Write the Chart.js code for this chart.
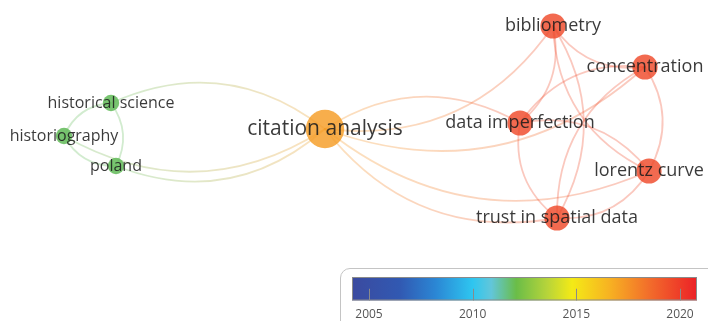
<!DOCTYPE html>
<html>
<head>
<meta charset="utf-8">
<script src="https://cdn.jsdelivr.net/npm/chart.js@4.4.1/dist/chart.umd.min.js"></script>
<style>
  body { margin: 0; background: #fff; }
  #wrap { position: relative; width: 708px; height: 321px; overflow: hidden; }
  #legendBox { position: absolute; left: 340px; top: 268px; width: 380px; height: 70px;
               border: 1px solid #c4c4c4; border-radius: 10px; background: #fff; box-sizing: border-box; }
  #net { position: absolute; left: 0; top: 0; }
  #scale { position: absolute; left: 352px; top: 277px; }
</style>
</head>
<body>
<div id="wrap">
  <canvas id="net" width="708" height="321"></canvas>
  <div id="legendBox"></div>
  <canvas id="scale" width="345" height="47"></canvas>
</div>
<script>
// keywords (VOSviewer overlay map)
const nodeLabels = ['historical science', 'historiography', 'poland', 'citation analysis',
    'bibliometry', 'concentration', 'data imperfection', 'lorentz curve', 'trust in spatial data'];
const nodeX = [111, 64, 116, 325, 553, 645, 520, 649, 557];
const nodeY = [103, 136, 166, 129, 26, 67, 123, 171, 218];
const nodeWeight = [1, 1, 1, 6, 3, 3, 3, 3, 3];
const nodeYear = [2011.9, 2011.9, 2011.9, 2017.2, 2019.6, 2019.6, 2019.6, 2019.6, 2019.6];

// links (from -> to, order decides which side the arc bends)
const edgeFrom = [1, 0, 2, 0, 3, 3, 3, 4, 5, 7, 8, 4, 4, 7, 5, 5, 6, 8, 8, 6, 7];
const edgeTo   = [0, 2, 1, 3, 2, 1, 6, 3, 3, 3, 3, 6, 8, 4, 4, 7, 5, 5, 6, 7, 8];

// colour scale
const yearTicks = [2005, 2010, 2015, 2020];
const yearMin = 2004.18;
const yearMax = 2020.82;

const stopYears  = [2004.18, 2006.5, 2008.2, 2010.0, 2010.9, 2012.1, 2013.6, 2014.8, 2016.6, 2018.6, 2020.82];
const stopColors = ['#3b4a9f', '#3159b2', '#2b86d4', '#2ec6f0', '#62c6da', '#6abd48', '#b7d43a',
                    '#f4ea16', '#f7b222', '#f26a2b', '#ec2127'];

function hexRgb(h) {
    return [parseInt(h.slice(1, 3), 16), parseInt(h.slice(3, 5), 16), parseInt(h.slice(5, 7), 16)];
}

function yearColor(y) {
    let i = 0;
    while (i < stopYears.length - 2 && y > stopYears[i + 1]) i++;
    const t = Math.max(0, Math.min(1, (y - stopYears[i]) / (stopYears[i + 1] - stopYears[i])));
    const a = hexRgb(stopColors[i]), b = hexRgb(stopColors[i + 1]);
    return a.map((v, k) => Math.round(v + (b[k] - v) * t));
}

function rgba(c, a) {
    return `rgba(${c[0]},${c[1]},${c[2]},${a})`;
}

const radiusOf = w => 6 + 2.2 * w;
const fontOf = w => 15 + w;

const nodeData = nodeX.map((x, i) => ({ x: x, y: nodeY[i], r: radiusOf(nodeWeight[i]) }));
const nodeColors = nodeYear.map(y => yearColor(y));

const edgePlugin = {
    id: 'edges',
    beforeDatasetsDraw(chart) {
        const ctx = chart.ctx;
        const xs = chart.scales.x, ys = chart.scales.y;
        ctx.save();
        ctx.lineWidth = 1.8;
        ctx.lineCap = 'round';
        edgeFrom.forEach((a, i) => {
            const b = edgeTo[i];
            const x1 = xs.getPixelForValue(nodeX[a]), y1 = ys.getPixelForValue(nodeY[a]);
            const x2 = xs.getPixelForValue(nodeX[b]), y2 = ys.getPixelForValue(nodeY[b]);
            const dx = x2 - x1, dy = y2 - y1;
            const len = Math.hypot(dx, dy);
            const off = 2 * 0.15 * len;
            const cx = (x1 + x2) / 2 + dy / len * off;
            const cy = (y1 + y2) / 2 - dx / len * off;
            const g = ctx.createLinearGradient(x1, y1, x2, y2);
            g.addColorStop(0, rgba(nodeColors[a], 0.3));
            g.addColorStop(1, rgba(nodeColors[b], 0.3));
            ctx.strokeStyle = g;
            ctx.beginPath();
            ctx.moveTo(x1, y1);
            ctx.quadraticCurveTo(cx, cy, x2, y2);
            ctx.stroke();
        });
        ctx.restore();
    }
};

const labelPlugin = {
    id: 'labels',
    afterDatasetsDraw(chart) {
        const ctx = chart.ctx;
        const meta = chart.getDatasetMeta(0);
        ctx.save();
        ctx.textAlign = 'center';
        ctx.textBaseline = 'middle';
        ctx.fillStyle = 'rgba(30,30,30,0.88)';
        meta.data.forEach((pt, i) => {
            ctx.font = fontOf(nodeWeight[i]) + 'px "Open Sans"';
            ctx.fillText(nodeLabels[i], pt.x, pt.y);
        });
        ctx.restore();
    }
};

new Chart(document.getElementById('net'), {
    type: 'bubble',
    data: {
        datasets: [{
            data: nodeData,
            backgroundColor: nodeColors.map((c, i) => rgba(c, nodeYear[i] < 2014 ? 0.9 : 0.82)),
            borderWidth: 0,
            clip: false
        }]
    },
    options: {
        responsive: false,
        animation: false,
        events: [],
        layout: { padding: 0, autoPadding: false },
        plugins: { legend: { display: false }, tooltip: { enabled: false } },
        scales: {
            x: { type: 'linear', min: 0, max: 708, display: false },
            y: { type: 'linear', min: 0, max: 321, reverse: true, display: false }
        }
    },
    plugins: [edgePlugin, labelPlugin]
});

// colour bar
const tickPlugin = {
    id: 'barTicks',
    afterDatasetsDraw(chart) {
        const ctx = chart.ctx;
        const xs = chart.scales.x;
        const area = chart.chartArea;
        ctx.save();
        ctx.strokeStyle = '#8a8a8a';
        ctx.lineWidth = 1;
        ctx.strokeRect(area.left + 0.5, area.top + 0.5, area.width - 1, area.height - 1);
        yearTicks.forEach(t => {
            const x = Math.round(xs.getPixelForValue(t)) + 0.5;
            ctx.beginPath();
            ctx.moveTo(x, area.top + area.height / 2);
            ctx.lineTo(x, area.bottom);
            ctx.stroke();
        });
        ctx.restore();
    }
};

new Chart(document.getElementById('scale'), {
    type: 'bar',
    data: {
        labels: ['year'],
        datasets: [{
            data: [[yearMin, yearMax]],
            borderWidth: 0,
            borderSkipped: false,
            barPercentage: 1,
            categoryPercentage: 1,
            backgroundColor(context) {
                const chart = context.chart;
                const area = chart.chartArea;
                if (!area) return null;
                const xs = chart.scales.x;
                const g = chart.ctx.createLinearGradient(area.left, 0, area.right, 0);
                stopYears.forEach((y, i) => {
                    const p = (xs.getPixelForValue(y) - area.left) / area.width;
                    g.addColorStop(Math.max(0, Math.min(1, p)), stopColors[i]);
                });
                return g;
            }
        }]
    },
    options: {
        indexAxis: 'y',
        responsive: false,
        animation: false,
        events: [],
        layout: { padding: 0, autoPadding: false },
        plugins: { legend: { display: false }, tooltip: { enabled: false } },
        scales: {
            x: {
                type: 'linear',
                min: yearMin,
                max: yearMax,
                afterBuildTicks(axis) {
                    axis.ticks = yearTicks.map(v => ({ value: v }));
                },
                afterFit(axis) {
                    axis.paddingLeft = 0;
                    axis.paddingRight = 0;
                },
                grid: { display: false, drawTicks: false },
                border: { display: false },
                ticks: {
                    padding: 7,
                    maxRotation: 0,
                    minRotation: 0,
                    color: '#555',
                    font: { family: '"Open Sans"', size: 12 },
                    callback: v => String(v)
                }
            },
            y: { display: false }
        }
    },
    plugins: [tickPlugin]
});
</script>
</body>
</html>
